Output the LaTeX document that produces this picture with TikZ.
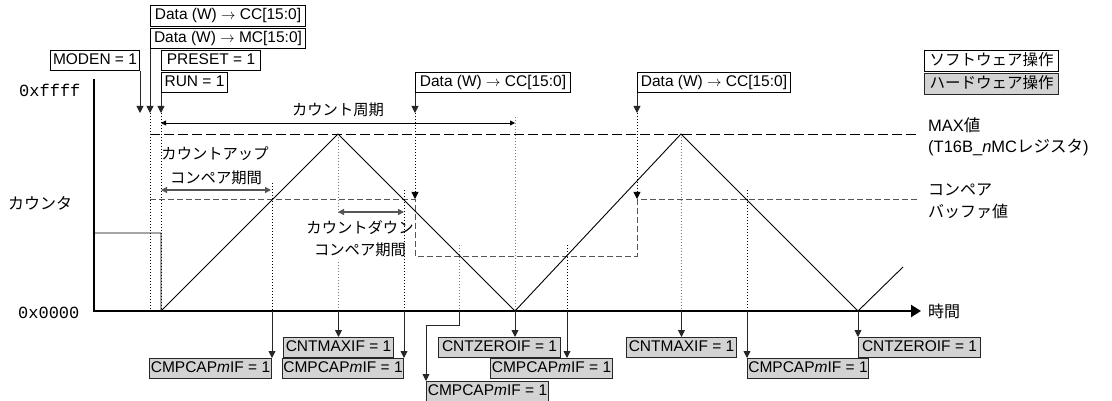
\documentclass[tikz,border=0pt]{standalone}
\usepackage{fontspec}
\setmainfont{Liberation Sans}
\newfontfamily\jpfont{Noto Sans CJK JP}
\newfontfamily\hexfont{Liberation Mono}
\usetikzlibrary{arrows.meta}
\definecolor{boxgray}{HTML}{D3D3D3}
\definecolor{linegray}{HTML}{555555}
\definecolor{dotgray}{HTML}{777777}
\begin{document}
\begin{tikzpicture}[x=1pt,y=-1pt,
  sbox/.style={draw=black, line width=1pt, inner sep=0pt, minimum height=20pt,
    font=\fontsize{15.5}{18}\selectfont, text height=11pt, text depth=3pt, fill=white},
  hbox/.style={sbox, fill=boxgray, draw=black!85},
  jbox/.style={sbox, font=\jpfont\fontsize{15.5}{18}\selectfont, text height=12pt, text depth=3pt, minimum height=21pt},
  arr/.style={line width=0.9pt, draw=black!85, -{Triangle[length=7pt,width=7pt]}},
  dotarr/.style={line width=0.8pt, dash pattern=on 1.4pt off 1.6pt, -{Triangle[length=7pt,width=7pt]}},
  evdot/.style={line width=0.8pt, dash pattern=on 1.4pt off 1.6pt},
  grdot/.style={line width=0.9pt, draw=dotgray, dash pattern=on 1.4pt off 1.6pt},
  maxdash/.style={line width=0.9pt, dash pattern=on 10pt off 4pt},
  cmpdash/.style={line width=1pt, draw=linegray, dash pattern=on 6pt off 3pt},
  wave/.style={line width=0.9pt},
  parr/.style={line width=0.8pt, {Triangle[length=5pt,width=5pt]}-{Triangle[length=5pt,width=5pt]}},
  carr/.style={line width=1.3pt, draw=linegray, {Triangle[length=6pt,width=6pt]}-{Triangle[length=6pt,width=6pt]}},
  jtxt/.style={font=\jpfont\fontsize{15.3}{18}\selectfont, inner sep=0pt},
  rtxt/.style={font=\fontsize{16.5}{19}\selectfont, inner sep=0pt, anchor=west},
  hex/.style={font=\hexfont\fontsize{17}{19}\selectfont, inner sep=0pt, anchor=west}
]
\useasboundingbox (0,0) rectangle (1112,401);
\coordinate (ax) at (0,311);
\coordinate (ty) at (0,113);

% axis labels
\node[hex] (yhi) at (19,90) {0xffff};
\node[hex] (ylo) at (18,313) {0x0000};
\node[jtxt, anchor=west, font=\jpfont\fontsize{16}{18}\selectfont] (ylab) at (8,203) {カウンタ};
\node[jtxt, anchor=west, font=\jpfont\fontsize{16}{18}\selectfont] (xlab) at (928,311) {時間};

% right labels
\node[rtxt] (maxl1) at (928,125) {MAX{\jpfont 値}};
\node[rtxt] (maxl2) at (928,147) {(T16B\_\textit{n}MC{\jpfont レジスタ})};
\node[rtxt, font=\jpfont\fontsize{16}{19}\selectfont] (cmpl1) at (928,190) {コンペア};
\node[rtxt, font=\jpfont\fontsize{16}{19}\selectfont] (cmpl2) at (928,211) {バッファ値};

% legend
\node[jbox, minimum width=134pt, anchor=north west] (soft) at (924,50) {ソフトウェア操作};
\node[jbox, fill=boxgray, draw=black!85, minimum width=134pt, anchor=north west] (hard) at (924,73) {ハードウェア操作};

% level lines
\draw[maxdash] (150,134) -- (917,134);
\draw[cmpdash] (150,200) -- (415,200) -- (415,256) -- (637,256) -- (637,200) -- (917,200);

% dotted event lines
\draw[evdot] (150,113) -- (150,311);
\draw[evdot] (161,113) -- (161,311);
\draw[evdot] (272,183) -- (272,311);
\draw[grdot] (338,134) -- (338,214);
\draw[grdot] (338,262) -- (338,311);
\draw[evdot] (404,190) -- (404,311);
\draw[grdot] (459,245) -- (459,311);
\draw[grdot] (515,117) -- (515,311);
\draw[evdot] (567,245) -- (567,311);
\draw[grdot] (681,134) -- (681,311);
\draw[evdot] (747,190) -- (747,311);
\draw[dotarr] (415,113) -- (415,199);
\draw[dotarr] (637,113) -- (637,199);

% waveform
\draw[wave] (94,233) -- (161,233) -- (161,311) -- (338,134) -- (515,311) -- (681,134) -- (858,311) -- (903,267);

% axes
\draw[line width=2.2pt, -{Triangle[length=10pt,width=12pt]}] (94,79) -- (94,311) -- (921,311);

% periods
\draw[parr] (161,123) -- (515,123);
\node[jtxt] (per) at (338,110) {カウント周期};
\draw[carr] (161,190) -- (271,190);
\node[jtxt] (up1) at (215,154) {カウントアップ};
\node[jtxt] (up2) at (216,178) {コンペア期間};
\draw[carr] (338,212) -- (404,212);
\node[jtxt] (dn1) at (360,228) {カウントダウン};
\node[jtxt] (dn2) at (360,250) {コンペア期間};

% top boxes
\node[sbox, minimum width=155pt, minimum height=21pt, anchor=north west] (dcc1) at (150,5) {Data (W) $\rightarrow$ CC[15:0]};
\node[sbox, minimum width=155pt, anchor=north west] (dmc) at (150,28) {Data (W) $\rightarrow$ MC[15:0]};
\node[sbox, minimum width=89pt, anchor=north west] (moden) at (50,50.5) {MODEN = 1};
\node[sbox, minimum width=99pt, anchor=north west] (preset) at (161,50.5) {PRESET = 1};
\node[sbox, minimum width=66pt, anchor=north west] (run) at (161,72.5) {RUN = 1};
\node[sbox, minimum width=155pt, anchor=north west] (dcc2) at (415,72.5) {Data (W) $\rightarrow$ CC[15:0]};
\node[sbox, minimum width=153pt, anchor=north west] (dcc3) at (637,72.5) {Data (W) $\rightarrow$ CC[15:0]};

\draw[arr] (moden.south east) -- (moden.south east |- ty);
\draw[arr] (dmc.south west) -- (dmc.south west |- ty);
\draw[arr] (run.south west) -- (run.south west |- ty);
\draw[arr] (dcc2.south west) -- (dcc2.south west |- ty);
\draw[arr] (dcc3.south west) -- (dcc3.south west |- ty);

% bottom flag boxes
\node[hbox, minimum width=122pt, anchor=north east] (cmp1) at (272,358) {CMPCAP\textit{m}IF = 1};
\node[hbox, minimum width=110pt, anchor=north west] (cmax1) at (283,337) {CNTMAXIF = 1};
\node[hbox, minimum width=121pt, anchor=north east] (cmp2) at (404,358) {CMPCAP\textit{m}IF = 1};
\node[hbox, minimum width=122pt, anchor=north west] (czero1) at (438,337) {CNTZEROIF = 1};
\node[hbox, minimum width=122pt, anchor=north west] (cmp3) at (426,381) {CMPCAP\textit{m}IF = 1};
\node[hbox, minimum width=122pt, anchor=north west] (cmp4) at (490,358) {CMPCAP\textit{m}IF = 1};
\node[hbox, minimum width=110pt, anchor=north west] (cmax2) at (626,337) {CNTMAXIF = 1};
\node[hbox, minimum width=121pt, anchor=north west] (cmp5) at (747,358) {CMPCAP\textit{m}IF = 1};
\node[hbox, minimum width=122pt, anchor=north west] (czero2) at (858,337) {CNTZEROIF = 1};

\coordinate (z1) at (515,311);
\coordinate (m3) at (459,311);
\coordinate (c4) at (567,311);
\draw[arr] (cmp1.north east |- ax) -- (cmp1.north east);
\draw[arr] (cmax1.north |- ax) -- (cmax1.north);
\draw[arr] (cmp2.north east |- ax) -- (cmp2.north east);
\draw[arr] (z1) -- (z1 |- czero1.north);
\draw[arr] (m3) -- ++(0,14) -| (cmp3.north west);
\draw[arr] (c4) -- (c4 |- cmp4.north);
\draw[arr] (cmax2.north |- ax) -- (cmax2.north);
\draw[arr] (cmp5.north west |- ax) -- (cmp5.north west);
\draw[arr] (czero2.north west |- ax) -- (czero2.north west);
\end{tikzpicture}
\end{document}
